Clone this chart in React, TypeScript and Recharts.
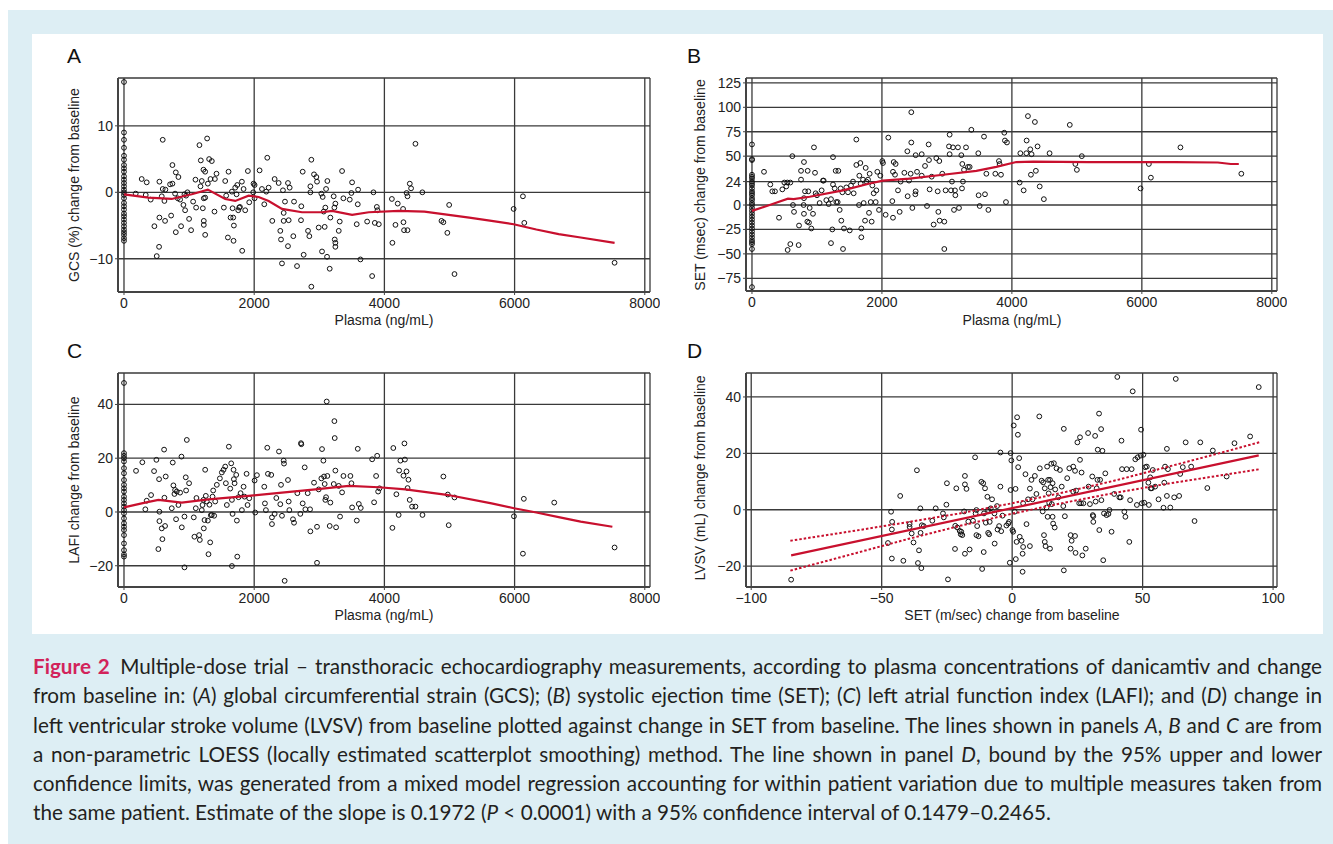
import React from 'react';
import { ScatterChart, Scatter, XAxis, YAxis, CartesianGrid } from 'recharts';

type Pt = [number, number];

// ---------- Panel A: GCS (%) change vs plasma ----------
const gcsZero: number[] = [16.6, 9.0, 7.9, 6.7, 5.5, 4.9, 4.1, 3.6, 3.1, 2.4, 1.9, 1.4, 0.9, 0.4, 0.0, -0.4, -0.9, -1.6, -2.1, -2.6, -3.2, -3.6, -4.1, -4.6, -5.1, -5.6, -6.0, -6.4, -6.9, -7.3];
const gcsPoints: Pt[] = [
  [595, 7.9], [180, -0.2], [272, 2.0], [349, 1.5], [334, -0.4], [410, -1.1], [467, -5.1], [503, -9.6], [539, -8.2], [544, -3.8],
  [544, 1.6], [580, -0.6], [595, 0.5], [621, -1.3], [631, -4.3], [636, 0.4], [708, 1.2], [744, 1.3], [744, 4.1], [724, -3.5],
  [796, 3.0], [785, -0.2], [796, -6.0], [836, 2.3], [826, -0.9], [862, -1.1], [877, -5.1], [913, -1.9], [929, -0.3], [939, -2.7],
  [954, -0.5], [975, 0], [1000, -4.0], [1031, -5.7], [1062, -1.4], [1098, 1.9], [1108, -2.3], [1159, 7.1], [1180, 4.8], [1175, 0.9],
  [1195, 1.7], [1211, -2.4], [1221, 3.4], [1226, -4.3], [1226, -0.9], [1226, -4.9], [1247, -6.4], [1247, -0.8], [1247, 3.1], [1277, 8.1],
  [1288, 1.3], [1308, 5.0], [1329, 2.0], [1349, 4.7], [1396, 2.0], [1421, 2.8], [1390, -2.9], [1534, -2.3], [1555, 1.7], [1570, -0.5],
  [1606, 3.1], [1596, -6.8], [1637, -3.8], [1657, 0.1], [1668, -2.4], [1678, -3.8], [1688, -5.0], [1683, -7.3], [1709, 0.7], [1729, -0.3],
  [1740, 1.1], [1755, -2.7], [1770, -2.3], [1781, -2.2], [1811, 1.6], [1816, -8.8], [1837, 0.5], [1862, -2.7], [1903, 3.2], [1924, -1.5],
  [1990, 1.3], [2006, 1.1], [1985, 0], [2006, -0.9], [2083, 3.3], [2119, 0.5], [2155, -1.8], [2186, 0.1], [2201, 5.2], [2222, 0.7],
  [2278, -4.3], [2314, 2.0], [2376, 1.4], [2401, -5.8], [2412, -7.1], [2427, -10.7], [2442, 0.3], [2453, -3.1], [2453, -4.3], [2473, -1.4],
  [2519, -8.1], [2519, 1.4], [2530, -4.2], [2545, 0.7], [2601, -6.6], [2612, -1.4], [2658, -11.1], [2719, -4.2], [2724, -2.1], [2745, 3.1],
  [2760, -9.4], [2827, -5.8], [2847, -6.6], [2863, 0.9], [2863, 0], [2878, 4.9], [2878, -14.2], [2919, 2.7], [2955, 2.3], [2965, 1.6],
  [2991, -5.3], [3032, -0.2], [3042, -8.9], [3052, -0.7], [3068, -2.9], [3083, -5.2], [3093, -2.3], [3104, 0.5], [3119, -9.7], [3124, 1.7],
  [3160, -11.5], [3170, -3.8], [3221, -0.6], [3232, -2.3], [3237, -7.1], [3247, -7.6], [3247, -8.2], [3247, -1.7], [3299, -5.8], [3314, -4.4],
  [3350, 3.2], [3370, -0.9], [3468, -1.1], [3493, -0.1], [3504, 1.5], [3575, -4.8], [3591, -1.8], [3596, 0.4], [3632, -10.1], [3735, -4.4],
  [3812, -12.6], [3832, 0], [3853, -4.6], [3884, -2.2], [3894, -2.7], [3914, -4.8],
  [4115, -1.0], [4205, -1.7], [4123, -7.6], [4170, -4.9], [4287, -2.5], [4293, -4.5], [4302, -5.7], [4355, -5.7], [4341, -0.1], [4355, -0.6],
  [4390, 1.3], [4410, 0.6], [4477, 7.3], [4583, 0], [4877, -4.3], [4906, -4.5], [4967, -6.1], [4995, -1.9], [5077, -12.3], [5985, -2.5],
  [6128, -0.6], [6149, -4.6], [7536, -10.6],
];
const gcsLoess: Pt[] = [
  [0, -0.3], [375, -0.8], [733, -1.0], [1041, -0.3], [1288, 0.4], [1555, -1.0], [1709, -1.3], [1914, -0.5], [2068, -0.7], [2222, -1.3],
  [2427, -2.5], [2734, -3.0], [3042, -3.0], [3196, -2.8], [3504, -3.4], [3760, -3.0], [4222, -2.8], [4615, -2.9], [5304, -3.8], [5646, -4.3],
  [5985, -4.8], [6334, -5.6], [6677, -6.3], [7015, -6.8], [7536, -7.6],
];

// ---------- Panel B: SET (msec) change vs plasma ----------
const setZero: number[] = [62, 47, 46, 31, 29, 27, 24, 22, 20, 17, 14, 12, 10, 7, 5, 2, 0, -3, -6, -9, -12, -15, -18, -21, -24, -27, -30, -33, -36, -38, -40, -45, -84];
const setPoints: Pt[] = [
  [185, 34], [282, 21], [313, 14], [354, 14], [416, -13], [467, 16], [498, 23], [544, 23], [590, 23], [549, -46],
  [590, -40], [528, 19], [621, 50], [631, 0], [647, -7], [718, -41], [724, -21], [755, 26], [755, 35], [800, 44],
  [800, 7], [816, 14], [800, -9], [795, 0], [857, 35], [867, 14], [888, -3], [852, -17], [877, -18], [913, -24],
  [939, -9], [954, 59], [970, 33], [980, 12], [1000, 10], [1041, 2], [1072, 15], [1093, 25], [1103, 25], [1144, 5],
  [1180, 1], [1216, 6], [1216, -39], [1236, -25], [1247, 49], [1247, 21], [1273, 17], [1288, 35], [1298, 3], [1319, 3],
  [1329, 35], [1350, -5], [1365, 17], [1375, -16], [1391, 13], [1401, -45], [1416, -24], [1452, 18], [1478, 13], [1504, -26],
  [1524, 20], [1555, 24], [1565, 12], [1606, 67], [1606, 41], [1652, 30], [1647, 0], [1668, 43], [1673, 22], [1683, -24],
  [1683, -33], [1709, 26], [1719, 2], [1740, -16], [1750, 38], [1760, 24], [1786, 26], [1801, -8], [1811, 32], [1827, 3],
  [1842, -17], [1852, 20], [1873, 12], [1904, 3], [1914, 15], [1929, 34], [1955, -5], [1975, 30], [2006, 45], [2016, 43],
  [2057, -10], [2098, 69], [2160, 4], [2170, -13], [2170, 34], [2181, 44], [2201, 31], [2211, 42], [2247, 15], [2273, -7],
  [2288, 24], [2345, 33], [2391, 55], [2396, 9], [2417, 25], [2442, 32], [2452, 64], [2452, 95], [2468, -3], [2514, 11],
  [2519, 14], [2519, 51], [2540, 34], [2612, 52], [2612, 30], [2663, 40], [2694, -1], [2719, 62], [2724, 46], [2734, 16],
  [2766, 29], [2796, -20], [2837, 48], [2858, 14], [2868, -7], [2883, 45], [2888, -16], [2929, 32], [2960, -17], [2960, -45],
  [2980, 15], [3032, 60], [3042, 72], [3042, 52], [3063, 15], [3078, 24], [3093, 59], [3109, -5], [3124, 15], [3130, 10],
  [3170, 59], [3186, -3], [3222, 51], [3232, 17], [3237, 42], [3247, 24], [3263, 36], [3294, 59], [3324, 39], [3350, 39],
  [3376, 77], [3483, 53], [3488, 10], [3504, -1], [3571, 70], [3586, 11], [3607, 32], [3638, -5], [3745, 32], [3801, 45],
  [3811, 42], [3832, 31], [3883, 74], [3893, 66], [3909, 3], [3924, 64], [4119, 23], [4130, 53], [4181, 15], [4222, 53],
  [4227, 66], [4247, 91], [4283, 57], [4293, 31], [4303, 52], [4354, 85], [4369, 35], [4395, 60], [4428, 19], [4492, 6],
  [4580, 53], [4891, 82], [4977, 42], [5000, 36], [5076, 50], [5980, 17], [6108, 42], [6139, 28], [6594, 59], [7531, 32],
];
const setLoess: Pt[] = [
  [0, -6], [272, 0], [554, 6.5], [640, 6], [888, 8.5], [1401, 15], [1811, 22], [2016, 25], [2426, 27], [2940, 31],
  [3453, 35], [3760, 39], [4068, 44], [4330, 44.5], [5185, 44], [5846, 44], [6507, 44], [7169, 43.5], [7369, 42], [7492, 42],
];

// ---------- Panel C: LAFI change vs plasma ----------
const lafiZero: number[] = [48, 21.9, 20.9, 20, 18.8, 16.3, 14.4, 11.9, 10.1, 8.8, 7.6, 5.7, 4.5, 3.2, 2, 0.7, -0.5, -2.4, -4.2, -5.5, -6.7, -8.6, -11.7, -14.2, -15.8, -16.6];
const lafiPoints: Pt[] = [
  [185, 15.3], [282, 18.5], [328, 1.0], [349, 4.2], [416, 6.3], [462, 15.2], [498, 19.4], [539, 12.2], [544, 0.1], [544, -3.4],
  [528, -13.8], [580, -6.1], [590, -10.1], [616, 23.2], [621, 5.3], [631, -5.2], [641, 13.2], [734, 1.4], [749, 18.4], [759, 9.9],
  [775, 6.7], [785, 8.2], [800, -2.7], [811, 7.6], [836, 2.6], [862, 7.2], [883, 20.6], [888, -5.7], [929, -20.6], [929, -1.7],
  [949, 12.9], [965, 26.8], [954, 8.0], [1000, 10.7], [1072, -2.0], [1082, -9.2], [1103, 1.4], [1113, 5.2], [1154, -8.6], [1165, -10.4],
  [1195, 0.7], [1206, 2.6], [1221, 4.5], [1226, -6.1], [1237, -3.0], [1247, 15.7], [1257, 6.0], [1272, 3.9], [1288, -3.2], [1298, -15.7],
  [1313, 2.7], [1324, -11.3], [1334, -1.2], [1349, -1.1], [1360, 5.7], [1370, 8.0], [1385, -1.4], [1401, 3.9], [1426, 10.1], [1473, 12.5],
  [1503, 14.7], [1529, 15.7], [1555, 16.9], [1565, 10.7], [1580, 2.6], [1611, 24.3], [1632, 8.7], [1647, 18.1], [1658, 4.5], [1668, -0.7],
  [1683, 15.7], [1688, 12.2], [1699, 10.7], [1724, 13.8], [1734, -3.2], [1740, -16.6], [1658, -20.1], [1760, 5.5], [1791, 7.0], [1811, 0.7],
  [1837, 9.4], [1852, 5.7], [1883, 14.2], [1898, 2.6], [1924, 5.1], [2006, 11.7], [2016, -0.2], [2042, 13.7], [2155, 9.4], [2165, 3.2],
  [2180, 0.7], [2201, 23.9], [2211, 14.2], [2262, 13.8], [2273, -2.0], [2273, -4.5], [2314, -0.7], [2340, 5.2], [2381, 22.5], [2401, 2.9],
  [2412, 10.1], [2427, -1.4], [2453, 19.1], [2458, 18.0], [2468, -25.6], [2519, 11.9], [2530, 3.9], [2540, 0.7], [2596, -2.7], [2612, -4.0],
  [2663, 7.0], [2709, -0.7], [2719, 25.6], [2724, 25.2], [2745, 3.2], [2776, 16.6], [2786, 1.0], [2822, 7.0], [2858, 1.0], [2863, -7.2],
  [2919, 10.9], [2965, -5.5], [2965, -18.9], [2991, 8.4], [3032, 12.5], [3042, 23.4], [3063, 19.1], [3073, 13.2], [3083, 10.4], [3093, 4.5],
  [3104, 5.5], [3114, 41.1], [3124, 13.4], [3160, -5.2], [3170, 3.5], [3222, 10.4], [3232, 33.8], [3237, 27.5], [3247, 15.4], [3258, -5.7],
  [3299, 9.7], [3319, -1.7], [3350, 7.3], [3371, 13.4], [3478, 13.4], [3494, 10.7], [3504, 1.7], [3576, -3.2], [3591, 23.5], [3607, 3.0],
  [3637, 1.5], [3812, 19.6], [3842, 3.6], [3873, 13.4], [3889, 20.9], [3904, 7.6], [3925, 8.8],
  [4123, -5.9], [4137, 23.8], [4184, 6.6], [4219, -1.1], [4226, 15.4], [4246, 19.1], [4293, 13.5], [4308, 25.5], [4315, 19.5], [4340, 15.1],
  [4356, 8.9], [4370, 12], [4389, 4.5], [4425, 2], [4477, 2], [4585, -1.1], [4906, 13.2], [4974, 6.5], [4988, -4.9], [5077, 5.4],
  [5990, -1.6], [6128, -15.5], [6142, 4.9], [6609, 3.5], [7536, -13.2],
];
const lafiLoess: Pt[] = [
  [0, 1.7], [323, 3.5], [528, 4.5], [888, 3.5], [1298, 4.7], [1914, 6.0], [2427, 7.2], [2940, 8.4], [3453, 9.7], [3914, 9.2],
  [4324, 8.4], [4960, 6.4], [5646, 3.2], [5990, 1.4], [6334, -0.2], [6677, -1.9], [7015, -3.6], [7502, -5.5],
];

// ---------- Panel D: LVSV change vs SET change ----------
const lvsvPoints: Pt[] = [
  [-84.7, -24.8], [-46.4, -0.7], [-46, -4.3], [-46.1, -7.0], [-47.6, -11.8], [-46.1, -17.3], [-42.9, 4.9], [-41.7, -18.1], [-39.3, -5.1], [-39.3, -6.1],
  [-38.5, -8.4], [-37.8, -11.6], [-36.5, 14.0], [-36.1, -18.9], [-35.7, -14.4], [-35.2, 0.5], [-34.8, -20.7], [-35.1, -8.2], [-34.6, -5.5], [-33.9, -5.8],
  [-30.6, -3.9], [-29.3, 0.5], [-26.5, -1.3], [-26.2, -2.7], [-25.2, 1.8], [-25.0, 9.4], [-24.6, -24.7], [-21.9, -13.9], [-21.8, -5.7], [-21.4, 7.6],
  [-21.0, -6.3], [-20.1, -7.5], [-19.7, -8.7], [-19.5, -7.8], [-19.1, -9.0], [-18.4, -0.6], [-18.1, 12.0], [-18.1, 9.0], [-17.5, 7.4], [-18.1, -15.6],
  [-16.3, -14.1], [-16.8, -4.2], [-15.0, -3.9], [-14.2, 18.6], [-14.0, -1.3], [-13.7, -0.1], [-13.4, -5.8], [-13.7, -9.0], [-12.9, -9.4], [-11.8, 9.9],
  [-11.5, -21.0], [-11.1, 9.4], [-10.9, -15.0], [-10.8, -1.3], [-10.4, 7.6], [-10.1, -4.6], [-9.5, 4.6], [-9.2, -8.2], [-8.8, -8.7], [-9.2, -0.1],
  [-8.6, -4.3], [-8.2, 0.5], [-7.7, 3.7], [-6.8, -1.3], [-6.7, -12.0], [-5.8, 1.3], [-5.6, -7.0], [-5.0, -5.8], [-4.5, 8.2], [-4.2, -7.6],
  [-3.7, -2.1], [-4.5, 20.3], [-2.2, -5.6], [-1.5, -4.9], [-1.2, -4.3], [-0.9, -18.8], [-0.6, 20.1], [-0.3, 17.5], [-0.6, 7.0], [0.1, -7.2],
  [0.4, -7.8], [0.6, 29.9], [1.0, -0.7], [1.3, 7.4], [1.4, -17.5], [1.7, -11.4], [1.9, 32.8], [2.2, 26.6], [2.3, 15.1], [2.7, 18.3],
  [2.9, -9.6], [3.6, -11.0], [4.0, -15.6], [4.0, -22.0], [4.2, -13.2], [4.2, 2.3], [5.1, 12.6], [5.5, -5.1], [6.1, 3.7], [6.8, 7.5],
  [6.8, -12.9], [7.4, 10.6], [7.8, 3.7], [8.7, 12.0], [9.3, 5.6], [10.4, 33.1], [10.6, 14.7], [11.3, 10.3], [11.7, -0.6], [11.9, 9.7],
  [12.2, -9.0], [12.5, -11.4], [12.5, 7.6], [12.8, -12.9], [13.2, 0.8], [13.4, 15.3], [13.6, -2.5], [13.8, 10.6], [14.0, 5.8], [14.2, 2.5],
  [14.5, -13.8], [14.5, 10.6], [14.7, 8.0], [15.0, 16.3], [15.2, 2.0], [15.5, 9.4], [15.5, -2.5], [15.7, -4.9], [16.0, 16.5], [16.3, -6.3],
  [16.5, 7.2], [17.0, 14.7], [17.7, 4.4], [18.3, 14.1], [19.0, 8.2], [19.6, 1.3], [19.8, 28.7], [19.8, -21.5], [20.2, -2.3], [21.1, 11.2],
  [21.9, 14.7], [22.4, -13.8], [22.4, -9.0], [22.8, -11.0], [23.4, 6.4], [23.4, 15.3], [24.1, -9.3], [24.1, 13.8], [24.3, -15.3], [24.5, 6.8],
  [25.0, 23.9], [25.7, 2.3], [26.0, 25.7], [26.0, 17.7], [26.4, 2.3], [26.6, 13.2], [26.9, -16.2], [27.3, 2.3], [28.2, -13.8], [29.1, 27.2],
  [29.3, 8.2], [29.8, 2.0], [30.7, 11.8], [30.9, -1.9], [31.1, -2.3], [31.1, -4.3], [31.8, 26.2], [32.0, 2.9], [32.4, 7.6], [32.7, 10.6],
  [32.8, 21.3], [33.3, 34.1], [33.4, -7.2], [33.7, 10.6], [34.1, 28.6], [34.2, 3.4], [34.6, 20.9], [34.9, -17.9], [35.2, -1.3], [35.7, 12.9],
  [36.2, -1.9], [36.9, -1.5], [37.3, -0.1], [38.1, -7.8], [39.1, 5.6], [40.3, 47.1], [41.1, 4.4], [41.6, 4.4], [41.9, 24.5], [42.1, 14.4],
  [43.0, -0.7], [43.4, -2.5], [43.9, 14.4], [44.9, -11.4], [45.2, 3.4], [45.8, 14.4], [46.2, 42.0], [47.2, 17.9], [47.8, 1.7], [48.1, 18.6],
  [49.3, 19.2], [49.4, 28.4], [49.7, 2.3], [50.3, 19.5], [50.6, 2.5], [51.0, 15.1], [51.6, 15.3], [52.2, 9.6], [52.4, 1.7], [52.9, 11.5],
  [53.1, 7.6], [53.5, 7.6], [53.9, 14.1], [54.8, 8.2], [56.1, 3.7], [58.0, 0.7], [58.3, 9.6], [58.6, 15.3], [59.3, 21.6], [59.3, 4.9],
  [59.7, 14.4], [60.6, 0.8], [62.1, 4.4], [62.7, 46.4], [64.0, 4.9], [64.4, 12.7], [65.4, 15.1], [66.5, 23.9], [68.6, 15.3], [69.9, -4.0],
  [72.1, 23.9], [74.8, 7.7], [76.9, 21.0], [82.2, 11.8], [85.2, 23.6], [91.2, 26.0], [94.5, 43.5],
];
const lvsvFit: Pt[] = [[-84.7, -16.2], [94.5, 19.3]];
const lvsvUpper: Pt[] = [[-85, -11.0], [-60, -7.4], [-40, -4.4], [-20, -1.3], [0, 2.3], [20, 6.2], [40, 10.5], [60, 15.3], [80, 20.2], [95, 24.0]];
const lvsvLower: Pt[] = [[-85, -21.6], [-60, -15.4], [-40, -10.4], [-20, -5.7], [0, -1.4], [20, 2.5], [40, 6.1], [60, 9.3], [80, 12.2], [95, 14.4]];

// ---------- axis ticks ----------
const plasmaTicks = [0, 2000, 4000, 6000, 8000];
const gcsTicks = [-10, 0, 10];
const setTicks = [-75, -50, -25, 0, 24, 50, 75, 100, 125];
const lafiTicks = [-20, 0, 20, 40];
const lvsvTicks = [-20, 0, 20, 40];
const setChangeTicks = [-100, -50, 0, 50, 100];

const RED = '#c8102e';
const AXIS_FONT = '"Liberation Sans", Arial, Helvetica, sans-serif';

const withZero = (zero: number[], pts: Pt[]): Pt[] => [...zero.map((y): Pt => [0, y]), ...pts];
const toXY = (a: Pt[]) => a.map(([x, y]) => ({ x, y }));
const fmt = (v: number) => String(v).replace('-', '\u2212');

const Dot = (p: any) => (
  <circle cx={p.cx} cy={p.cy} r={2.4} fill="none" stroke="#111" strokeWidth={1} />
);
const NoDot = () => <g />;

type Curve = { data: Pt[]; dash?: string };

function Panel(props: {
  plotLeft: number; plotTop: number; plotW: number; plotH: number;
  xDomain: [number, number]; yDomain: [number, number];
  xTicks: number[]; yTicks: number[];
  points: Pt[]; curves: Curve[];
}) {
  const ML = 60, MT = 10, MR = 10, MB = 30;
  const XH = 24, YW = 45;
  const width = props.plotW + ML + MR;
  const height = props.plotH + MT + MB;
  const tick = { fontSize: 14, fill: '#222', fontFamily: AXIS_FONT };
  return (
    <div style={{ position: 'absolute', left: props.plotLeft - ML, top: props.plotTop - MT }}>
      <ScatterChart width={width} height={height} margin={{ top: MT, right: MR, bottom: MB - XH, left: ML - YW }}>
        <CartesianGrid stroke="#3a3a3a" strokeWidth={1.3} />
        <XAxis type="number" dataKey="x" domain={props.xDomain} ticks={props.xTicks} interval={0}
          allowDataOverflow height={XH} tickSize={3} tickMargin={3}
          axisLine={{ stroke: '#444', strokeWidth: 2 }} tickLine={{ stroke: '#444' }}
          tick={tick} tickFormatter={fmt} />
        <YAxis type="number" dataKey="y" domain={props.yDomain} ticks={props.yTicks} interval={0}
          allowDataOverflow width={YW} tickSize={3} tickMargin={2}
          axisLine={{ stroke: '#444', strokeWidth: 2 }} tickLine={{ stroke: '#444' }}
          tick={tick} tickFormatter={fmt} />
        <Scatter data={toXY(props.points)} shape={Dot} isAnimationActive={false} />
        {props.curves.map((c, i) => (
          <Scatter key={i} data={toXY(c.data)} shape={NoDot} isAnimationActive={false}
            line={{ stroke: RED, strokeWidth: c.dash ? 2 : 2.2, strokeDasharray: c.dash }} lineType="joint" />
        ))}
      </ScatterChart>
    </div>
  );
}

const txt: React.CSSProperties = { position: 'absolute', fontFamily: AXIS_FONT, fontSize: 14, color: '#222', whiteSpace: 'nowrap' };
const letter: React.CSSProperties = { position: 'absolute', fontFamily: AXIS_FONT, fontSize: 21, lineHeight: '21px', color: '#111' };

function XTitle({ cx, cy, children }: { cx: number; cy: number; children: React.ReactNode }) {
  return <div style={{ ...txt, left: cx, top: cy, transform: 'translate(-50%,-50%)' }}>{children}</div>;
}
function YTitle({ cx, cy, children }: { cx: number; cy: number; children: React.ReactNode }) {
  return <div style={{ ...txt, left: cx, top: cy, transform: 'translate(-50%,-50%) rotate(-90deg)' }}>{children}</div>;
}

const CAP_FONT = 'Lato, "Open Sans", "Noto Sans", sans-serif';
const capLine: React.CSSProperties = { height: 29.3, lineHeight: '29.3px', textAlign: 'justify', textAlignLast: 'justify' as any };

export default function App() {
  return (
    <div style={{ position: 'relative', width: 1333, height: 844, background: '#fff', overflow: 'hidden' }}>
      <style>{`body{margin:0;}`}</style>
      <div style={{ position: 'absolute', left: 8, top: 10, width: 1325, height: 834, background: '#ddeef4' }} />
      <div style={{ position: 'absolute', left: 32, top: 34, width: 1291, height: 600, background: '#fff' }} />

      <Panel plotLeft={118} plotTop={78} plotW={532} plotH={214} xDomain={[-92, 8080]} yDomain={[-15, 17.2]}
        xTicks={plasmaTicks} yTicks={gcsTicks} points={withZero(gcsZero, gcsPoints)} curves={[{ data: gcsLoess }]} />
      <Panel plotLeft={746} plotTop={78} plotW={531} plotH={213} xDomain={[-92, 8080]} yDomain={[-88, 130]}
        xTicks={plasmaTicks} yTicks={setTicks} points={withZero(setZero, setPoints)} curves={[{ data: setLoess }]} />
      <Panel plotLeft={118} plotTop={373} plotW={532} plotH={214} xDomain={[-92, 8080]} yDomain={[-27.9, 51.7]}
        xTicks={plasmaTicks} yTicks={lafiTicks} points={withZero(lafiZero, lafiPoints)} curves={[{ data: lafiLoess }]} />
      <Panel plotLeft={746} plotTop={373} plotW={531} plotH={214} xDomain={[-102, 101.5]} yDomain={[-27.4, 48.5]}
        xTicks={setChangeTicks} yTicks={lvsvTicks} points={lvsvPoints}
        curves={[{ data: lvsvFit }, { data: lvsvUpper, dash: '2.5 2' }, { data: lvsvLower, dash: '2.5 2' }]} />

      <div style={{ ...letter, left: 67, top: 45 }}>A</div>
      <div style={{ ...letter, left: 687, top: 45 }}>B</div>
      <div style={{ ...letter, left: 67, top: 340 }}>C</div>
      <div style={{ ...letter, left: 687, top: 340 }}>D</div>

      <YTitle cx={73.5} cy={185}>GCS (%) change from baseline</YTitle>
      <YTitle cx={700} cy={185}>SET (msec) change from baseline</YTitle>
      <YTitle cx={73.5} cy={480}>LAFI change from baseline</YTitle>
      <YTitle cx={700} cy={478}>LVSV (mL) change from baseline</YTitle>

      <XTitle cx={384} cy={320}>Plasma (ng/mL)</XTitle>
      <XTitle cx={1012} cy={320}>Plasma (ng/mL)</XTitle>
      <XTitle cx={384} cy={615}>Plasma (ng/mL)</XTitle>
      <XTitle cx={1012} cy={615}>SET (m/sec) change from baseline</XTitle>

      <div style={{ position: 'absolute', left: 33, top: 652, width: 1289, fontFamily: CAP_FONT, fontSize: 20.7, color: '#231f20' }}>
        <div style={capLine}>
          <b style={{ color: '#d2235a' }}>Figure 2</b>{'\u2002'}Multiple-dose trial – transthoracic echocardiography measurements, according to plasma concentrations of danicamtiv and change
        </div>
        <div style={capLine}>
          from baseline in: (<i>A</i>) global circumferential strain (GCS); (<i>B</i>) systolic ejection time (SET); (<i>C</i>) left atrial function index (LAFI); and (<i>D</i>) change in
        </div>
        <div style={capLine}>
          left ventricular stroke volume (LVSV) from baseline plotted against change in SET from baseline. The lines shown in panels <i>A</i>, <i>B</i> and <i>C</i> are from
        </div>
        <div style={capLine}>
          a non-parametric LOESS (locally estimated scatterplot smoothing) method. The line shown in panel <i>D</i>, bound by the 95% upper and lower
        </div>
        <div style={capLine}>
          confidence limits, was generated from a mixed model regression accounting for within patient variation due to multiple measures taken from
        </div>
        <div style={{ ...capLine, textAlign: 'left', textAlignLast: 'left' as any }}>
          the same patient. Estimate of the slope is 0.1972 (<i>P</i> &lt; 0.0001) with a 95% confidence interval of 0.1479–0.2465.
        </div>
      </div>
    </div>
  );
}
